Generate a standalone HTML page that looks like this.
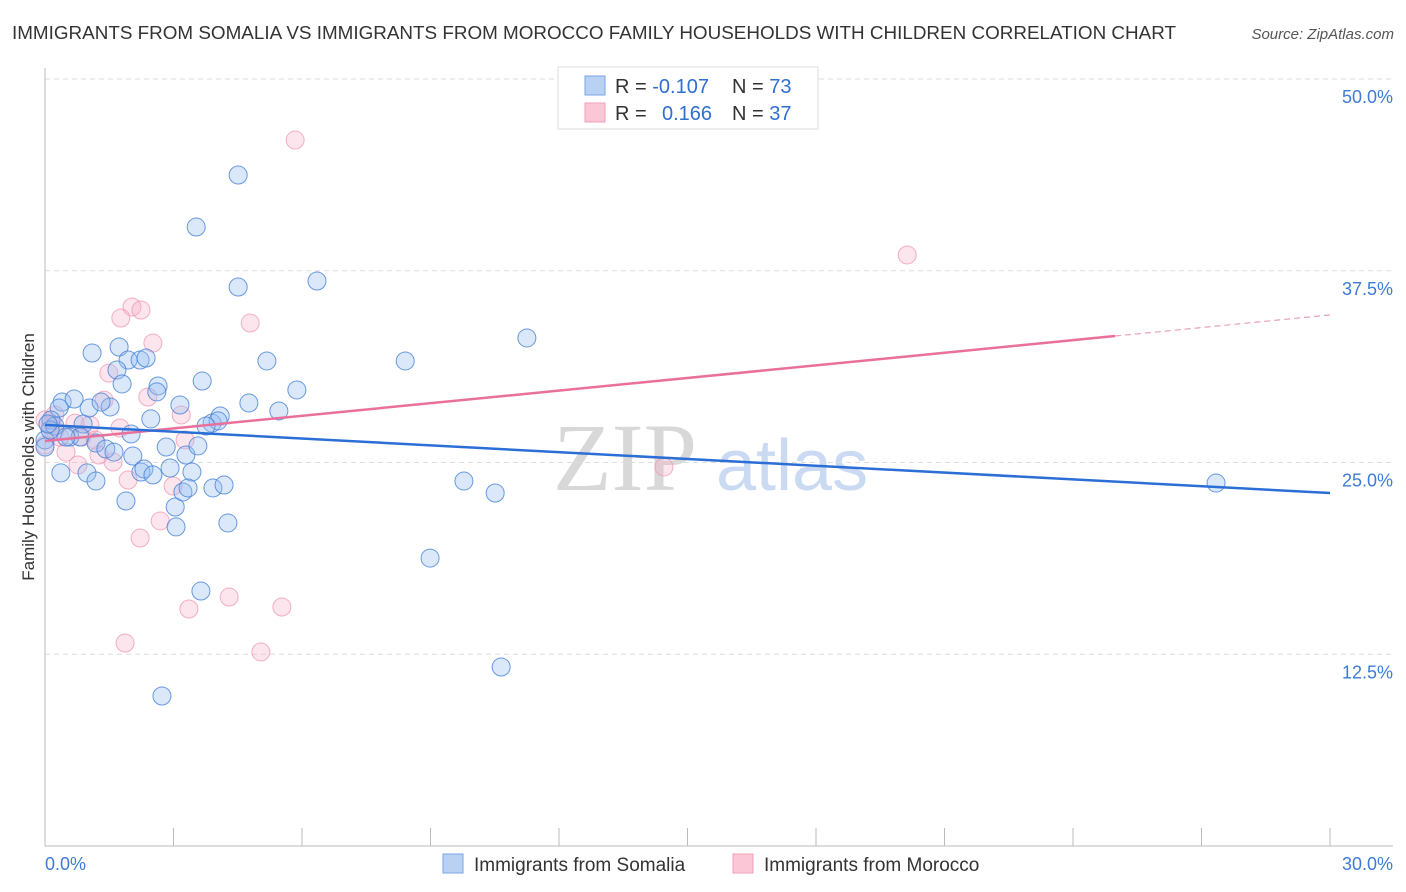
<!DOCTYPE html>
<html><head><meta charset="utf-8">
<style>
body{margin:0;background:#fff;font-family:"Liberation Sans",sans-serif;}
svg{display:block}
</style></head>
<body>
<svg id="chart" width="1406" height="892" xmlns="http://www.w3.org/2000/svg">
<text x="12" y="39" font-size="18" fill="#333" textLength="1164" lengthAdjust="spacingAndGlyphs">IMMIGRANTS FROM SOMALIA VS IMMIGRANTS FROM MOROCCO FAMILY HOUSEHOLDS WITH CHILDREN CORRELATION CHART</text>
<text x="1394" y="39" font-size="15" fill="#555" text-anchor="end" font-style="italic">Source: ZipAtlas.com</text>
<g>
<text x="553" y="490" font-size="96" fill="#d8d8d8" font-family="Liberation Serif,serif">ZIP</text>
<text x="716" y="490" font-size="72" fill="#c9daf2">atlas</text>
</g>
<g id="grid"></g>
<g id="axes"></g>
<g id="marks"></g>
<text transform="translate(34,457) rotate(-90)" font-size="17" fill="#333" text-anchor="middle">Family Households with Children</text>
<g>
<rect x="558" y="67" width="260" height="62" fill="#fff" stroke="#ddd"/>
<rect x="585" y="76" width="20" height="19" fill="#b9d1f3" stroke="#7aa5e6"/>
<rect x="585" y="103" width="20" height="19" fill="#fbc7d6" stroke="#f0a0b8"/>
<text x="615" y="93" font-size="20" fill="#333">R = <tspan fill="#2f6fd0">-0.107</tspan><tspan x="732">N = </tspan><tspan fill="#2f6fd0">73</tspan></text>
<text x="615" y="120" font-size="20" fill="#333">R = <tspan x="662" fill="#2f6fd0">0.166</tspan><tspan x="732">N = </tspan><tspan fill="#2f6fd0">37</tspan></text>
</g>
<g>
<rect x="443" y="854" width="20" height="19" fill="#b9d1f3" stroke="#7aa5e6"/>
<text x="474" y="871" font-size="19" fill="#333">Immigrants from Somalia</text>
<rect x="733" y="854" width="20" height="19" fill="#fbc7d6" stroke="#f0a0b8"/>
<text x="764" y="871" font-size="19" fill="#333">Immigrants from Morocco</text>
</g>
</svg>
<script>
const yTicks=[12.5,25,37.5,50];
const yTickLabels=["12.5%","25.0%","37.5%","50.0%"];
const xTickLabels=["0.0%","30.0%"];
const somaliaX=[4.51,3.53,4.51,6.35,11.25,8.41,5.18,1.10,1.73,1.94,2.22,2.36,1.68,1.80,2.64,2.61,3.67,5.88,4.76,5.46,3.15,2.47,3.90,4.09,4.04,3.76,0.40,0.68,0.33,1.03,1.52,0.14,0.89,0.23,0,0.58,0.82,1.19,1.42,1.61,2.01,2.05,2.83,3.29,3.57,0.37,0.98,1.19,2.24,2.31,2.52,2.92,3.43,1.89,3.04,3.22,3.34,3.92,4.18,3.06,4.27,9.78,10.51,8.99,3.64,10.65,2.73,27.34,0.12,1.31,0,0.49,0.07];
const somaliaY=[43.74,40.35,36.44,36.83,33.12,31.62,31.62,32.14,32.53,31.68,31.68,31.81,31.03,30.12,29.99,29.6,30.31,29.73,28.88,28.36,28.75,27.84,27.57,28.03,27.71,27.38,28.94,29.14,28.55,28.55,28.62,27.77,27.51,27.38,26.47,26.66,26.66,26.27,25.88,25.68,26.86,25.42,26.01,25.49,26.08,24.32,24.32,23.79,24.38,24.58,24.19,24.64,24.38,22.49,22.10,23.08,23.34,23.34,23.53,20.80,21.06,23.79,23.01,18.77,16.62,11.67,9.78,23.66,27.12,28.94,26.01,26.66,27.51];
const moroccoX=[5.84,20.13,2.03,2.24,1.77,4.79,2.52,1.49,2.40,3.18,1.38,0.23,0.12,0.70,1.05,1.75,3.27,0.49,0.77,1.59,1.26,1.94,2.99,2.69,2.22,14.45,3.36,4.30,5.53,1.87,5.04,0,0.35,0.86,0,0.23,1.17];
const moroccoY=[46.02,38.53,35.14,34.94,34.42,34.09,32.79,30.83,29.27,28.10,29.07,28.10,27.44,27.57,27.44,27.25,26.47,25.68,24.84,25.03,25.49,23.86,23.47,21.19,20.08,24.71,15.45,16.23,15.58,13.23,12.65,27.77,26.66,26.66,26.14,27.12,26.47];
const somaliaTrend=[27.45,23.01];
const moroccoTrend=[26.4,34.62];
const moroccoSolidEnd=24.98;

const X0=45,X1=1330,Y0=846,Y50=79;
const xs=v=>X0+(v/30)*(X1-X0);
const ys=v=>Y0-(v/50)*(Y0-Y50);
const NS="http://www.w3.org/2000/svg";
function mk(tag,attrs,parent){const e=document.createElementNS(NS,tag);for(const k in attrs)e.setAttribute(k,attrs[k]);parent.appendChild(e);return e;}
const grid=document.getElementById('grid'),axes=document.getElementById('axes'),marks=document.getElementById('marks');
yTicks.forEach((t,i)=>{
  const g=mk('line',{x1:45,x2:1393,y1:ys(t),y2:ys(t),stroke:'#ddd','stroke-dasharray':'5,4'},grid);
  
  
  const l=mk('text',{x:1393,y:ys(t)+24,'font-size':18,fill:'#3f7bd6','text-anchor':'end'},axes);
  l.textContent=yTickLabels[i];
  
  
});
const ya=mk('line',{x1:45,x2:45,y1:68,y2:846,stroke:'#bbb'},axes);


const xa=mk('line',{x1:45,x2:1393,y1:846,y2:846,stroke:'#bbb'},axes);


for(let i=0;i<=10;i++){
  const tk=mk('line',{x1:xs(i*3),x2:xs(i*3),y1:828,y2:846,stroke:'#bbb'},axes);
  
  
}
const xl0=mk('text',{x:45,y:870,'font-size':18,fill:'#3f7bd6'},axes);
xl0.textContent=xTickLabels[0];


const xl1=mk('text',{x:1393,y:870,'font-size':18,fill:'#3f7bd6','text-anchor':'end'},axes);
xl1.textContent=xTickLabels[1];



moroccoX.forEach((v,i)=>{
  const c=mk('circle',{cx:xs(v),cy:ys(moroccoY[i]),r:9,fill:'rgba(246,170,196,0.3)',stroke:'rgba(240,150,180,0.75)','stroke-width':1},marks);
  
  
});
somaliaX.forEach((v,i)=>{
  const c=mk('circle',{cx:xs(v),cy:ys(somaliaY[i]),r:9,fill:'rgba(150,190,240,0.35)',stroke:'rgba(70,130,215,0.8)','stroke-width':1},marks);
  
  
});
const mY=x=>moroccoTrend[0]+(moroccoTrend[1]-moroccoTrend[0])*x/30;
const pl=mk('line',{x1:xs(0),y1:ys(moroccoTrend[0]),x2:xs(moroccoSolidEnd),y2:ys(mY(moroccoSolidEnd)),stroke:'#e8709a','stroke-width':2.5},marks);


const pd=mk('line',{x1:xs(moroccoSolidEnd),y1:ys(mY(moroccoSolidEnd)),x2:xs(30),y2:ys(moroccoTrend[1]),stroke:'#e8a0b8','stroke-width':1.2,'stroke-dasharray':'6,4'},marks);


const bl=mk('line',{x1:xs(0),y1:ys(somaliaTrend[0]),x2:xs(30),y2:ys(somaliaTrend[1]),stroke:'#2b6fd6','stroke-width':2.5},marks);


</script>
</body></html>
